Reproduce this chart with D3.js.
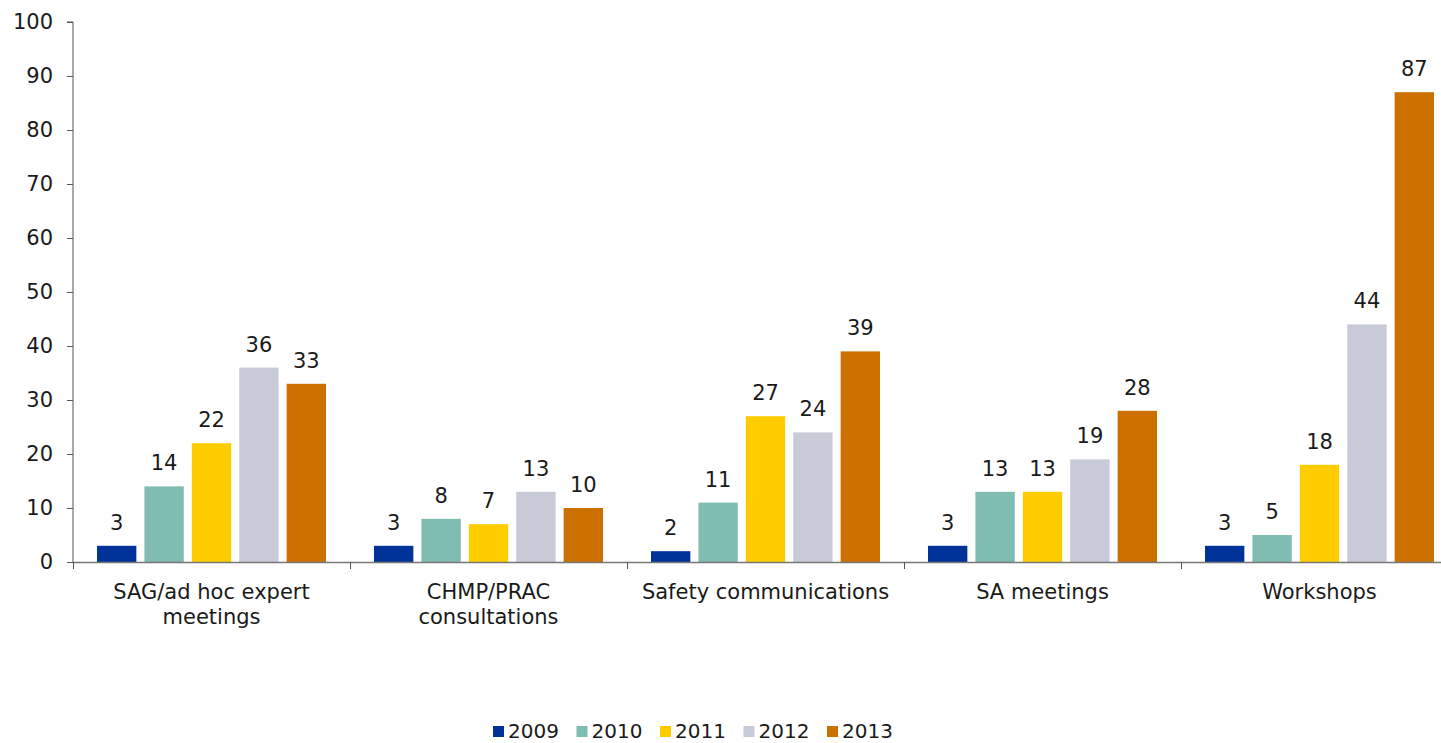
<!DOCTYPE html>
<html>
<head>
<meta charset="utf-8">
<script src="https://cdn.jsdelivr.net/npm/d3@7"></script>
<style>
  html, body { margin: 0; padding: 0; background: #fff; }
  svg { display: block; font-family: "DejaVu Sans", Verdana, sans-serif; }
</style>
</head>
<body>
<svg id="chart" width="1441" height="743"></svg>
<script>
// Stakeholder involvement by activity type, 2009–2013
const categories = [
  ["SAG/ad hoc expert", "meetings"],
  ["CHMP/PRAC", "consultations"],
  ["Safety communications"],
  ["SA meetings"],
  ["Workshops"]
];
const years = ["2009", "2010", "2011", "2012", "2013"];
const values2009 = [3, 3, 2, 3, 3];
const values2010 = [14, 8, 11, 13, 5];
const values2011 = [22, 7, 27, 13, 18];
const values2012 = [36, 13, 24, 19, 44];
const values2013 = [33, 10, 39, 28, 87];
const yTicks = [0, 10, 20, 30, 40, 50, 60, 70, 80, 90, 100];
const colors = ["#003399", "#7fbcb1", "#ffcc00", "#c8cad8", "#cc7000"];

const seriesValues = [values2009, values2010, values2011, values2012, values2013];

const svg = d3.select("#chart");
const plotLeft = 73, bandW = 277, plotTop = 22, plotBottom = 562;
const fontSize = 21;

const x0 = d3.scaleBand()
  .domain(d3.range(categories.length))
  .range([plotLeft, plotLeft + bandW * categories.length])
  .paddingInner(0).paddingOuter(0);

const x1 = d3.scaleBand()
  .domain(years)
  .range([24, bandW - 24])
  .paddingInner(0.17);

const y = d3.scaleLinear().domain([0, 100]).range([plotBottom, plotTop]);

// y axis
const yAxis = svg.append("g")
  .attr("transform", `translate(${plotLeft},0)`)
  .call(d3.axisLeft(y).tickValues(yTicks).tickSize(6).tickPadding(14));
yAxis.select(".domain").attr("stroke", "#555").attr("d", `M-6,${plotTop}H0V${plotBottom}`);
yAxis.selectAll(".tick line").attr("stroke", "#555");
yAxis.selectAll(".tick text").attr("font-size", fontSize).attr("fill", "#1a1a1a")
  .attr("font-family", "DejaVu Sans, Verdana, sans-serif");

// bars
const groups = svg.append("g").selectAll("g")
  .data(categories.map((c, i) => i))
  .join("g")
  .attr("transform", i => `translate(${x0(i)},0)`);

years.forEach((yr, s) => {
  groups.append("rect")
    .attr("x", x1(yr))
    .attr("width", x1.bandwidth())
    .attr("y", i => y(seriesValues[s][i]))
    .attr("height", i => y(0) - y(seriesValues[s][i]))
    .attr("fill", colors[s]);
  groups.append("text")
    .attr("x", x1(yr) + x1.bandwidth() / 2)
    .attr("y", i => y(seriesValues[s][i]) - 16)
    .attr("text-anchor", "middle")
    .attr("font-size", fontSize)
    .attr("fill", "#1a1a1a")
    .text(i => seriesValues[s][i]);
});

// x axis
const xg = svg.append("g");
xg.append("line")
  .attr("x1", plotLeft).attr("x2", 1441)
  .attr("y1", plotBottom + 0.5).attr("y2", plotBottom + 0.5)
  .attr("stroke", "#777").attr("stroke-width", 1.5);
d3.range(categories.length + 1).forEach(i => {
  const xx = Math.round(plotLeft + bandW * i) + 0.5;
  xg.append("line")
    .attr("x1", xx).attr("x2", xx)
    .attr("y1", plotBottom).attr("y2", plotBottom + 7)
    .attr("stroke", "#555");
});
categories.forEach((lines, i) => {
  const t = xg.append("text")
    .attr("x", x0(i) + bandW / 2)
    .attr("y", 599)
    .attr("text-anchor", "middle")
    .attr("font-size", fontSize)
    .attr("fill", "#1a1a1a");
  lines.forEach((ln, k) => {
    t.append("tspan").attr("x", x0(i) + bandW / 2).attr("dy", k === 0 ? 0 : 25).text(ln);
  });
});

// legend
const legend = svg.append("g").attr("transform", "translate(493,724)");
years.forEach((yr, s) => {
  const g = legend.append("g").attr("transform", `translate(${s * 83.5},0)`);
  g.append("rect").attr("y", 2).attr("width", 11).attr("height", 11).attr("fill", colors[s]);
  g.append("text").attr("x", 15).attr("y", 14).attr("font-size", 20)
    .attr("fill", "#1a1a1a").text(yr);
});
</script>
</body>
</html>
